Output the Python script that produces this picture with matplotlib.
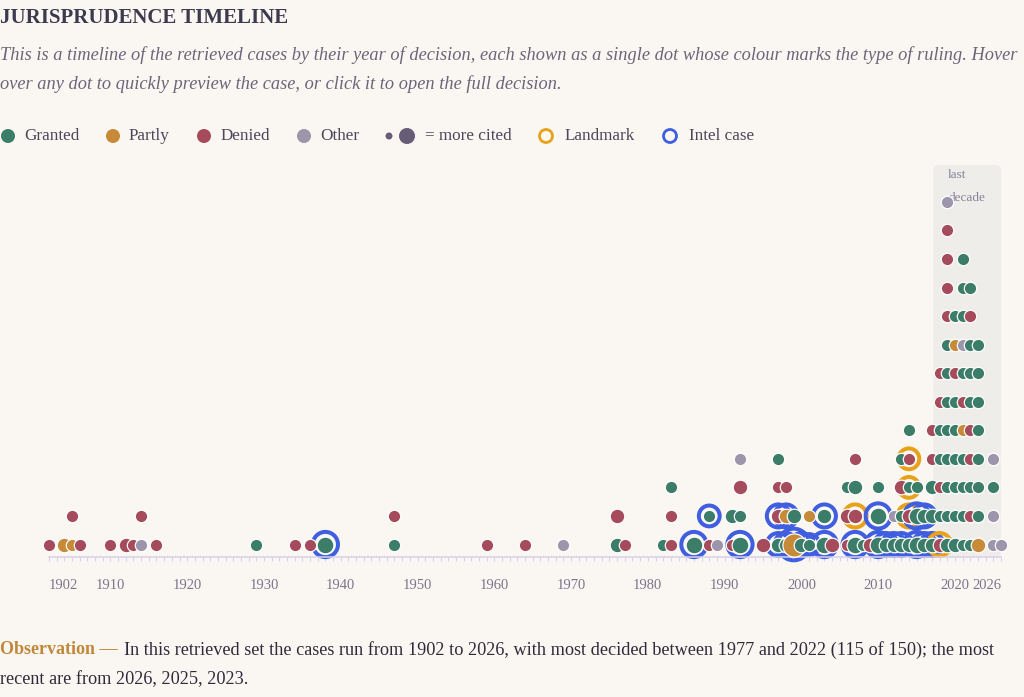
import matplotlib
import matplotlib.pyplot as plt
from matplotlib.patches import FancyBboxPatch

matplotlib.use('Agg')

# every year with cases; strings hold the stack from the axis upwards
case_years = [1902, 1904, 1905, 1906, 1910, 1912, 1913, 1914, 1916, 1929, 1934, 1936, 1938, 1947,
              1959, 1964, 1969, 1976, 1977, 1982, 1983, 1986, 1988, 1989, 1991, 1992, 1995, 1997,
              1998, 1999, 2000, 2001, 2003, 2004, 2006, 2007, 2008, 2009, 2010, 2011, 2012, 2013,
              2014, 2015, 2016, 2017, 2018, 2019, 2020, 2021, 2022, 2023, 2025, 2026]
# G granted, P partly, D denied, O other
case_rulings = ["D", "P", "PD", "D", "D", "D", "D", "OD", "D", "G", "D", "D", "G", "GD",
                "D", "D", "O", "GD", "D", "G", "DDG", "G", "DG", "O", "DG", "GGDO", "D", "GDDG",
                "GPD", "PG", "G", "GP", "GG", "D", "DDG", "GDGD", "G", "D", "GGG", "G", "GO", "GGDG",
                "GDGDG", "GGG", "GG", "GGGDD", "DGDGGDD", "GGGGGGGGDDDDO", "GGGGGGDPG",
                "GGGGPDGOGGG", "GDGDDGGGDG", "PGGGGGGG", "OOGO", "O"]
# citation level 0..3 (bigger dot = more cited)
case_cites = ["0", "1", "00", "0", "0", "1", "0", "00", "0", "0", "0", "0", "2", "00",
              "0", "0", "0", "11", "0", "0", "000", "2", "00", "0", "01", "2010", "1", "1100",
              "110", "31", "1", "00", "21", "1", "010", "2110", "0", "1", "220", "1", "10", "1010",
              "11000", "220", "11", "11100", "1000000", "1000000000000", "100000000",
              "00000000000", "0000000000", "10000000", "0000", "0"]
# L landmark, I intel case, - none
case_marks = ["-", "-", "--", "-", "-", "-", "-", "--", "-", "-", "-", "-", "I", "--",
              "-", "-", "-", "--", "-", "-", "---", "I", "-I", "-", "--", "I---", "-", "II--",
              "II-", "I-", "I", "I-", "II", "-", "---", "IL--", "-", "-", "II-", "I", "I-", "I---",
              "-LLL-", "II-", "II", "I----", "L------", "-------------", "---------",
              "-----------", "----------", "--------", "----", "-"]

tick_years = [1902, 1910, 1920, 1930, 1940, 1950, 1960, 1970, 1980, 1990, 2000, 2010, 2020, 2026]

colors = {'G': '#3b7d68', 'P': '#c78a38', 'D': '#a54b5b', 'O': '#9c95ab'}
ring_colors = {'L': '#e8a21a', 'I': '#3f5ee0'}
radius_px = {'0': 5.6, '1': 6.7, '2': 7.8, '3': 11.0}
bg = '#faf7f3'
lav = '#d9d1ea'
font = 'Liberation Serif'

W, H = 1024, 697
fig = plt.figure(figsize=(W / 100, H / 100), dpi=100, facecolor=bg)
PT = 0.72  # points per pixel


def fx(x):
    return x / W


def fy(y):
    return 1 - y / H


# plot area: 1902 at px 49, 2026 at px 1001, axis line at px 557, row pitch 28.55 px
row_px = 28.55
row0 = 544.5
ax = fig.add_axes([fx(49), fy(557), fx(1001) - fx(49), (557 - 160) / H])
ax.patch.set_alpha(0)
ax.set_xlim(1902, 2026)
ax.set_ylim(-(557 - row0) / row_px, (row0 - 160) / row_px)

band_top = (row0 - 165) / row_px
band = FancyBboxPatch((2017.2, ax.get_ylim()[0]), 2026 - 2017.2, band_top - ax.get_ylim()[0],
                      boxstyle="round,pad=0,rounding_size=0.65", mutation_aspect=0.27,
                      facecolor='#efedea', edgecolor='none', zorder=1)
ax.add_patch(band)
ax.text(2019.1, (row0 - 175) / row_px, 'last', fontsize=9.5, family=font, color='#8a8398',
        va='center', ha='left', zorder=2)
ax.text(2019.1, (row0 - 198) / row_px, 'decade', fontsize=9.5, family=font, color='#8a8398',
        va='center', ha='left', zorder=2)

# rings sit under all dots, dots are drawn year by year
z = 3.0
for yr, rul, cit, mk in zip(case_years, case_rulings, case_cites, case_marks):
    for i, (r, c, m) in enumerate(zip(rul, cit, mk)):
        rad = radius_px[c]
        if m != '-':
            ax.scatter([yr], [i], s=(2 * (rad + 4.8) * PT) ** 2, facecolors='none',
                       edgecolors=ring_colors[m], linewidths=4.0 * PT, zorder=2.5, clip_on=False)
        ax.scatter([yr], [i], s=(2 * (rad + 0.6) * PT) ** 2, color=colors[r],
                   edgecolors='white', linewidths=1.2 * PT, zorder=z, clip_on=False)
        z += 0.001

for s in ['left', 'right', 'top']:
    ax.spines[s].set_visible(False)
ax.spines['bottom'].set_color(lav)
ax.spines['bottom'].set_linewidth(1.1)
ax.set_yticks([])
ax.set_xticks(tick_years, [str(t) for t in tick_years])
ax.set_xticks(range(1902, 2027), minor=True)
ax.tick_params(axis='x', which='both', length=3, width=0.8, color=lav, pad=12.5,
               labelsize=10.5, labelcolor='#7b748a')
for lab in ax.get_xticklabels():
    lab.set_family(font)
labs = ax.get_xticklabels()
labs[0].set_ha('left')
labs[-1].set_ha('right')

# header, legend and note
fig.text(fx(0), fy(18), 'JURISPRUDENCE TIMELINE', fontsize=15, fontweight='bold', family=font,
         color='#3d3a4e', va='center', ha='left')
sub = '#6b6578'
fig.text(fx(0), fy(55), 'This is a timeline of the retrieved cases by their year of decision, each shown as '
         'a single dot whose colour marks the type of ruling. Hover', fontsize=13.2, style='italic',
         family=font, color=sub, va='center', ha='left')
fig.text(fx(0), fy(84), 'over any dot to quickly preview the case, or click it to open the full decision.',
         fontsize=13.2, style='italic', family=font, color=sub, va='center', ha='left')

leg = fig.add_axes([0, 0, 1, 1])
leg.set_xlim(0, W)
leg.set_ylim(H, 0)
leg.axis('off')
leg.patch.set_visible(False)
ly = 136
lc = '#4b4659'
items = [(8, 'G', 24, 'Granted'), (113, 'P', 129, 'Partly'), (204, 'D', 221, 'Denied'),
         (304, 'O', 320, 'Other')]
for x, k, tx, name in items:
    leg.scatter([x], [ly], s=(2 * 7 * PT) ** 2, color=colors[k], edgecolors='none')
    leg.text(tx, ly, name, fontsize=12.3, family=font, color=lc, va='center', ha='left')
leg.scatter([389], [ly], s=(2 * 3.5 * PT) ** 2, color='#675d78', edgecolors='none')
leg.scatter([407], [ly], s=(2 * 8 * PT) ** 2, color='#675d78', edgecolors='none')
leg.text(425, ly, '= more cited', fontsize=12.3, family=font, color=lc, va='center', ha='left')
for x, k, tx, name in [(546, 'L', 565, 'Landmark'), (670, 'I', 689, 'Intel case')]:
    leg.scatter([x], [ly], s=(2 * 6.5 * PT) ** 2, facecolors='none', edgecolors=ring_colors[k],
                linewidths=2.8 * PT)
    leg.text(tx, ly, name, fontsize=12.3, family=font, color=lc, va='center', ha='left')

leg.text(0, 650, 'Observation \u2014', fontsize=13, fontweight='bold', family=font,
         color='#c0883a', va='center', ha='left')
note = '#2f2b3a'
leg.text(124, 650, 'In this retrieved set the cases run from 1902 to 2026, with most decided between '
         '1977 and 2022 (115 of 150); the most', fontsize=13.15, family=font, color=note,
         va='center', ha='left')
leg.text(0, 680, 'recent are from 2026, 2025, 2023.', fontsize=13.15, family=font, color=note,
         va='center', ha='left')

fig.savefig('out.png', dpi=100, facecolor=bg)
